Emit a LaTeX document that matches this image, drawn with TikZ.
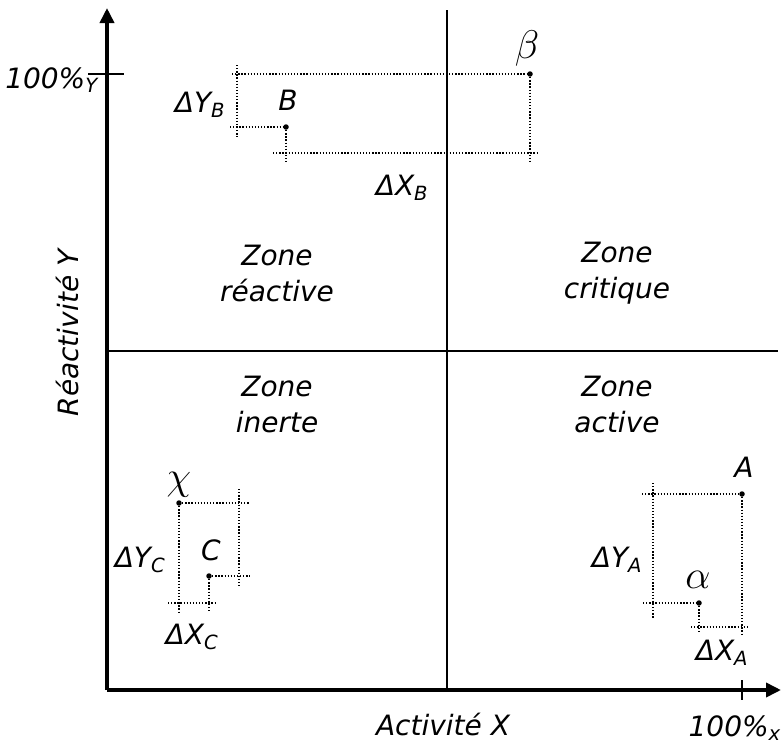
\RequirePackage{fix-cm}
\documentclass[tikz,border=0pt]{standalone}
\usepackage{fontspec}
\setmainfont{DejaVu Sans}
\usetikzlibrary{arrows.meta}
\newcommand{\dvar}[2]{Δ#1\textsubscript{#2}}
\begin{document}
\begin{tikzpicture}[
  x=1pt, y=-1pt,
  font=\itshape\fontsize{28}{36}\selectfont,
  axis/.style={line width=3.6pt, -{Triangle[length=15pt,width=14pt]}},
  split/.style={line width=1.3pt},
  guide/.style={line width=1.3pt, dash pattern=on 1.3pt off 1.8pt},
  pt/.style={circle, fill=black, inner sep=0pt, minimum size=5.5pt},
  zone/.style={align=center, inner sep=0pt},
  greek/.style={font=\fontsize{40}{44}\selectfont},
]
\useasboundingbox (0,0) rectangle (782,744);

% axes
\coordinate (O) at (107,690);
\coordinate (ytop) at (107,8);
\coordinate (xend) at (781,690);
\draw[axis] (O) -- (ytop);
\draw[axis] (O) -- (xend);
\draw[line width=1.2pt] (88,74) -- (124,74);
\draw[line width=1.2pt] (742,680) -- (742,700);
\node[anchor=east, inner sep=0pt] (ymax) at (98,80) {100\%\textsubscript{Y}};
\node[anchor=east, inner sep=0pt] (xmax) at (781,728) {100\%\textsubscript{x}};
\node (xlab) at (443,724) {Activité X};
\node[rotate=90] (ylab) at (68,333) {Réactivité Y};

% quadrants
\draw[split] (447,10) -- (447,690);
\draw[split] (107,351) -- (778,351);
\foreach \x/\y/\t in {277/273/réactive, 617/273/critique, 277/404/inerte, 617/404/active} {
  \node[zone] at (\x,\y) {Zone\\\t};
}

% points
\node[pt] (B) at (286,127) {};
\node[pt] (beta) at (530,74) {};
\node[pt] (C) at (209,576) {};
\node[pt] (chi) at (179,503) {};
\node[pt] (A) at (742,494) {};
\node[pt] (alpha) at (699,603) {};

\node (Blab) at (288,100) {B};
\node[greek] (betalab) at (527,48) {$\beta$};
\node (Clab) at (211,550) {C};
\node[greek] (chilab) at (179,485) {$\chi$};
\node (Alab) at (744,467) {A};
\node[greek] (alphalab) at (698,580) {$\alpha$};

\node (dYB) at (200,105) {\dvar{Y}{B}};
\node (dXB) at (402,188) {\dvar{X}{B}};
\node (dYC) at (140,560) {\dvar{Y}{C}};
\node (dXC) at (192,637) {\dvar{X}{C}};
\node (dYA) at (617,560) {\dvar{Y}{A}};
\node (dXA) at (722,653) {\dvar{X}{A}};

% dotted boxes
\draw[guide] (232,74) -- (beta.center);
\draw[guide] (237,65) -- (237,137);
\draw[guide] (230,127) -- (B.center);
\draw[guide] (B.center) -- (286,162);
\draw[guide] (273,153) -- (537,153);
\draw[guide] (beta.center) -- (530,162);

\draw[guide] (chi.center) -- (250,503);
\draw[guide] (239,489) -- (239,587);
\draw[guide] (C.center) -- (250,576);
\draw[guide] (chi.center) -- (179,612);
\draw[guide] (C.center) -- (209,613);
\draw[guide] (168,603) -- (215,603);

\draw[guide] (642,494) -- (A.center);
\draw[guide] (653,483) -- (653,618);
\draw[guide] (643,603) -- (alpha.center);
\draw[guide] (alpha.center) -- (699,633);
\draw[guide] (A.center) -- (742,635);
\draw[guide] (691,627) -- (747,627);
\end{tikzpicture}
\end{document}
